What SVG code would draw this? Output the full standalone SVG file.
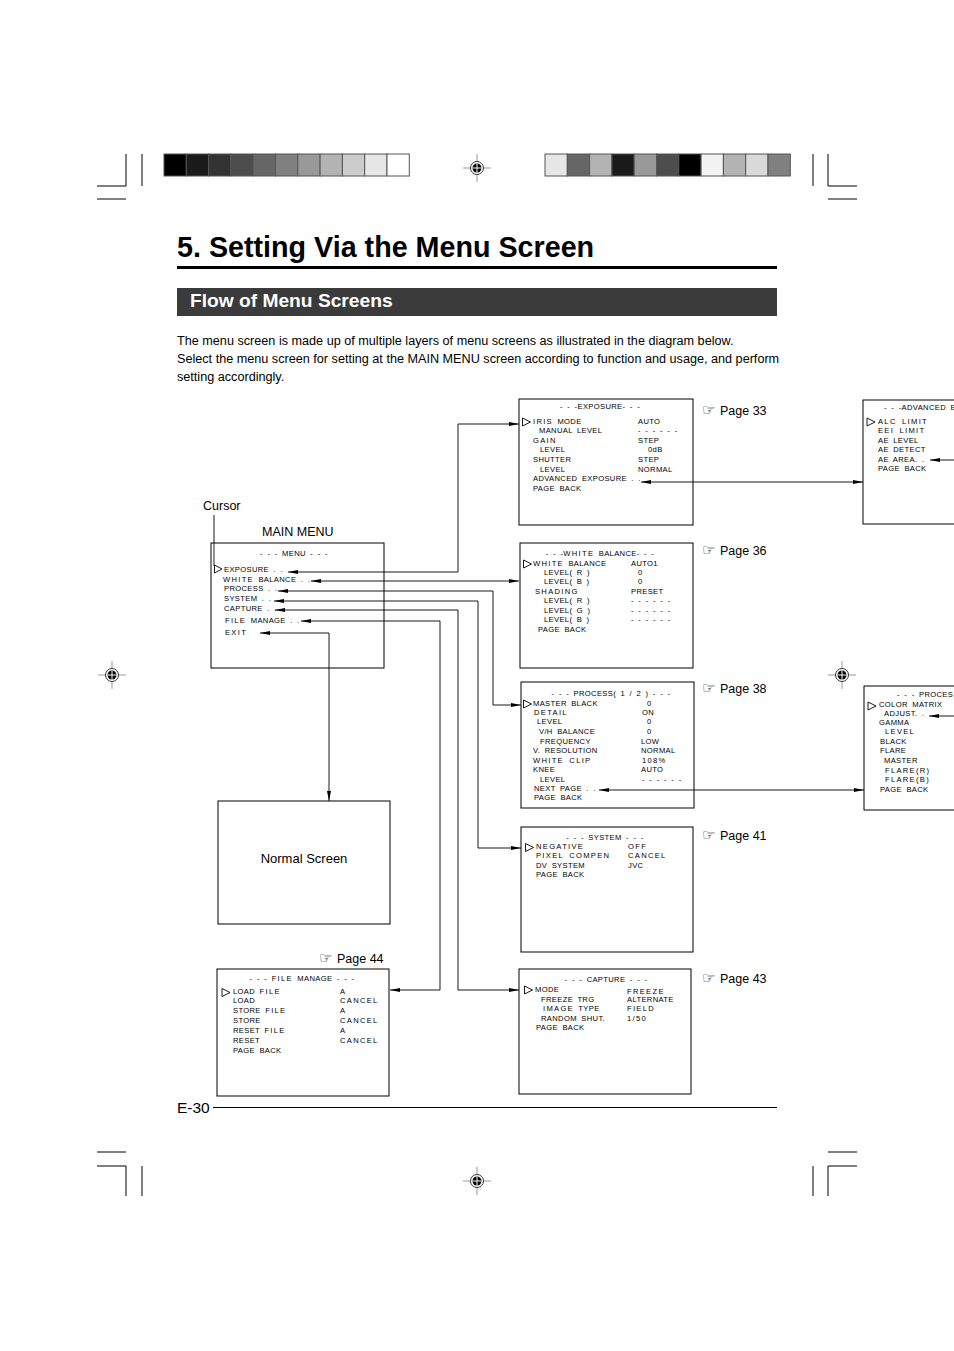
<svg xmlns="http://www.w3.org/2000/svg" width="954" height="1351" viewBox="0 0 954 1351">
<style>
.m{font-family:"Liberation Sans",Arial,sans-serif;font-size:7.6px;letter-spacing:0.35px;word-spacing:2px;fill:#000}
.w{letter-spacing:1.3px}
.t{text-anchor:middle}
.box{fill:#fff;stroke:#000;stroke-width:1}
.cur{fill:#fff;stroke:#000;stroke-width:0.9}
.c{fill:none;stroke:#000;stroke-width:0.9}
.lbl{font-family:"Liberation Sans",Arial,sans-serif;font-size:12.5px;fill:#000}
.hand{font-family:"DejaVu Sans","Noto Sans",sans-serif;font-size:15px;fill:#000}
.crop{stroke:#000;stroke-width:1;fill:none}
.bar{stroke:#555;stroke-width:1}
</style>
<defs>
<marker id="ar" viewBox="0 0 10 4" refX="10" refY="2" markerWidth="11" markerHeight="4" markerUnits="userSpaceOnUse" orient="auto-start-reverse">
<path d="M0,0 L10,2 L0,4 z" fill="#000"/>
</marker>
<g id="reg">
<line x1="-14" y1="0" x2="14" y2="0" stroke="#999" stroke-width="1"/>
<line x1="0" y1="-14" x2="0" y2="14" stroke="#999" stroke-width="1"/>
<circle r="6.5" fill="#fff" stroke="#333" stroke-width="1"/>
<circle r="4.5" fill="#000"/>
<line x1="-4.5" y1="0" x2="4.5" y2="0" stroke="#fff" stroke-width="1"/>
<line x1="0" y1="-4.5" x2="0" y2="4.5" stroke="#fff" stroke-width="1"/>
</g>
</defs>
<rect width="954" height="1351" fill="#fff"/>

<g id="printmarks">
<path class="crop" d="M97,186H126V154M142,154V186M97,199H126"/>
<path class="crop" d="M857,186H828V154M813,154V186M857,199H828"/>
<path class="crop" d="M97,1152H126M97,1166H126V1196M142,1166V1196"/>
<path class="crop" d="M857,1152H828M857,1166H828V1196M813,1166V1196"/>
<use href="#reg" x="477" y="168"/>
<use href="#reg" x="477" y="1181"/>
<use href="#reg" x="112" y="675"/>
<use href="#reg" x="842" y="675"/>
<g class="bar">
<rect x="164" y="154" width="22.3" height="22" fill="#000"/>
<rect x="186.3" y="154" width="22.3" height="22" fill="#1a1a1a"/>
<rect x="208.6" y="154" width="22.3" height="22" fill="#333"/>
<rect x="230.9" y="154" width="22.3" height="22" fill="#4d4d4d"/>
<rect x="253.2" y="154" width="22.3" height="22" fill="#666"/>
<rect x="275.5" y="154" width="22.3" height="22" fill="#808080"/>
<rect x="297.8" y="154" width="22.3" height="22" fill="#999"/>
<rect x="320.1" y="154" width="22.3" height="22" fill="#b3b3b3"/>
<rect x="342.4" y="154" width="22.3" height="22" fill="#ccc"/>
<rect x="364.7" y="154" width="22.3" height="22" fill="#e6e6e6"/>
<rect x="387" y="154" width="22.3" height="22" fill="#fff"/>
<rect x="545" y="154" width="22.3" height="22" fill="#e6e6e6"/>
<rect x="567.3" y="154" width="22.3" height="22" fill="#666"/>
<rect x="589.6" y="154" width="22.3" height="22" fill="#b3b3b3"/>
<rect x="611.9" y="154" width="22.3" height="22" fill="#1a1a1a"/>
<rect x="634.2" y="154" width="22.3" height="22" fill="#999"/>
<rect x="656.5" y="154" width="22.3" height="22" fill="#4d4d4d"/>
<rect x="678.8" y="154" width="22.3" height="22" fill="#000"/>
<rect x="701.1" y="154" width="22.3" height="22" fill="#f2f2f2"/>
<rect x="723.4" y="154" width="22.3" height="22" fill="#b3b3b3"/>
<rect x="745.7" y="154" width="22.3" height="22" fill="#d9d9d9"/>
<rect x="768" y="154" width="22.3" height="22" fill="#808080"/>
</g>
</g>

<g id="header">
<text x="177" y="257" font-family="Liberation Sans,Arial,sans-serif" font-size="28.7" font-weight="bold">5. Setting Via the Menu Screen</text>
<rect x="177" y="266" width="600" height="3" fill="#000"/>
<rect x="177" y="288" width="600" height="28" fill="#3b3b3b"/>
<text x="190" y="307" font-family="Liberation Sans,Arial,sans-serif" font-size="19.2" font-weight="bold" fill="#fff">Flow of Menu Screens</text>
<g font-family="Liberation Sans,Arial,sans-serif" font-size="12.65">
<text x="177" y="345">The menu screen is made up of multiple layers of menu screens as illustrated in the diagram below.</text>
<text x="177" y="363">Select the menu screen for setting at the MAIN MENU screen according to function and usage, and perform</text>
<text x="177" y="381">setting accordingly.</text>
</g>
</g>

<g id="labels">
<text class="lbl" x="203" y="510">Cursor</text>
<text class="lbl" x="262" y="536">MAIN MENU</text>
<text class="hand" x="702" y="415">☞</text><text class="lbl" x="720" y="415">Page 33</text>
<text class="hand" x="702" y="555">☞</text><text class="lbl" x="720" y="555">Page 36</text>
<text class="hand" x="702" y="693">☞</text><text class="lbl" x="720" y="693">Page 38</text>
<text class="hand" x="702" y="840">☞</text><text class="lbl" x="720" y="840">Page 41</text>
<text class="hand" x="702" y="983">☞</text><text class="lbl" x="720" y="983">Page 43</text>
<text class="hand" x="319" y="963">☞</text><text class="lbl" x="337" y="963">Page 44</text>
</g>

<g id="exposure">
<rect class="box" x="519" y="399" width="174" height="126"/>
<text class="m t" x="600" y="409">- - -EXPOSURE- - -</text>
<polygon class="cur" points="522.5,418 530.5,422 522.5,426"/>
<text class="m" x="533" y="424"><tspan class="w">IRIS</tspan> MODE</text><text class="m" x="638" y="424">AUTO</text>
<text class="m" x="539" y="433">MANUAL LEVEL</text><text class="m" x="638" y="433">- - - - - -</text>
<text class="m w" x="533" y="443">GAIN</text><text class="m" x="638" y="443">STEP</text>
<text class="m" x="540" y="452">LEVEL</text><text class="m" x="648" y="452">0dB</text>
<text class="m" x="533" y="462">SHUTTER</text><text class="m" x="638" y="462">STEP</text>
<text class="m" x="540" y="472">LEVEL</text><text class="m" x="638" y="472">NORMAL</text>
<text class="m" x="533" y="481">ADVANCED EXPOSURE . .</text>
<text class="m" x="533" y="491">PAGE BACK</text>
</g>

<g id="advanced">
<rect class="box" x="863" y="400" width="100" height="124"/>
<text class="m" x="884" y="410">- - -ADVANCED E</text>
<polygon class="cur" points="867,418 875,422 867,426"/>
<text class="m w" x="878" y="424">ALC LIMIT</text>
<text class="m w" x="878" y="433">EEI LIMIT</text>
<text class="m" x="878" y="443">AE LEVEL</text>
<text class="m" x="878" y="452">AE DETECT</text>
<text class="m" x="878" y="462">AE AREA. .</text>
<text class="m" x="878" y="471">PAGE BACK</text>
</g>

<g id="mainmenu">
<rect class="box" x="211" y="543" width="173" height="125"/>
<text class="m t" x="294" y="556">- - -  MENU  - - -</text>
<polygon class="cur" points="214.5,565 222,569 214.5,573"/>
<text class="m" x="224" y="572">EXPOSURE . .</text>
<text class="m" x="223" y="582"><tspan class="w">WHITE</tspan> BALANCE . .</text>
<text class="m" x="224" y="591">PROCESS . .</text>
<text class="m" x="224" y="601">SYSTEM . .</text>
<text class="m" x="224" y="611">CAPTURE . .</text>
<text class="m" x="225" y="623"><tspan class="w">FILE</tspan> MANAGE . .</text>
<text class="m w" x="225" y="635">EXIT</text>
</g>

<g id="whitebalance">
<rect class="box" x="520" y="543" width="173" height="125"/>
<text class="m t" x="600" y="556">- - -<tspan class="w">WHITE</tspan> BALANCE- - -</text>
<polygon class="cur" points="523.5,560 531.5,564 523.5,568"/>
<text class="m" x="533" y="566"><tspan class="w">WHITE</tspan> BALANCE</text><text class="m" x="631" y="566">AUTO1</text>
<text class="m" x="544" y="575">LEVEL( R )</text><text class="m" x="638" y="575">0</text>
<text class="m" x="544" y="584">LEVEL( B )</text><text class="m" x="638" y="584">0</text>
<text class="m w" x="535" y="594">SHADING</text><text class="m" x="631" y="594">PRESET</text>
<text class="m" x="544" y="603">LEVEL( R )</text><text class="m" x="631" y="603">- - - - - -</text>
<text class="m" x="544" y="613">LEVEL( G )</text><text class="m" x="631" y="613">- - - - - -</text>
<text class="m" x="544" y="622">LEVEL( B )</text><text class="m" x="631" y="622">- - - - - -</text>
<text class="m" x="538" y="632">PAGE BACK</text>
</g>

<g id="process">
<rect class="box" x="521" y="682" width="173" height="126"/>
<text class="m t" x="611" y="696">- - -  PROCESS( 1 / 2 )  - - -</text>
<polygon class="cur" points="523.5,700 531.5,704 523.5,708"/>
<text class="m" x="533" y="706">MASTER BLACK</text><text class="m" x="647" y="706">0</text>
<text class="m w" x="534" y="715">DETAIL</text><text class="m" x="642" y="715">ON</text>
<text class="m" x="537" y="724">LEVEL</text><text class="m" x="647" y="724">0</text>
<text class="m" x="539" y="734">V/H BALANCE</text><text class="m" x="647" y="734">0</text>
<text class="m" x="540" y="744">FREQUENCY</text><text class="m" x="641" y="744">LOW</text>
<text class="m" x="533" y="753">V. RESOLUTION</text><text class="m" x="641" y="753">NORMAL</text>
<text class="m w" x="533" y="763">WHITE CLIP</text><text class="m w" x="642" y="763">108%</text>
<text class="m" x="533" y="772">KNEE</text><text class="m" x="641" y="772">AUTO</text>
<text class="m" x="540" y="782">LEVEL</text><text class="m" x="642" y="782">- - - - - -</text>
<text class="m" x="534" y="791">NEXT PAGE . .</text>
<text class="m" x="534" y="800">PAGE BACK</text>
</g>

<g id="process2">
<rect class="box" x="864" y="686" width="100" height="124"/>
<text class="m" x="897" y="697">- - -  PROCES</text>
<polygon class="cur" points="868,702 876,706 868,710"/>
<text class="m" x="879" y="707" letter-spacing="0.6">COLOR MATRIX</text>
<text class="m" x="884" y="716">ADJUST. .</text>
<text class="m" x="879" y="725">GAMMA</text>
<text class="m w" x="885" y="734">LEVEL</text>
<text class="m" x="880" y="744">BLACK</text>
<text class="m" x="880" y="753">FLARE</text>
<text class="m" x="884" y="763">MASTER</text>
<text class="m w" x="885" y="773">FLARE(R)</text>
<text class="m w" x="885" y="782">FLARE(B)</text>
<text class="m" x="880" y="792">PAGE BACK</text>
</g>

<g id="system">
<rect class="box" x="521" y="827" width="172" height="125"/>
<text class="m t" x="605" y="840">- - -  SYSTEM  - - -</text>
<polygon class="cur" points="525.5,843.5 533.5,847.5 525.5,851.5"/>
<text class="m w" x="536" y="849">NEGATIVE</text><text class="m w" x="628" y="849">OFF</text>
<text class="m w" x="536" y="858">PIXEL COMPEN</text><text class="m w" x="628" y="858">CANCEL</text>
<text class="m" x="536" y="868">DV SYSTEM</text><text class="m" x="628" y="868">JVC</text>
<text class="m" x="536" y="877">PAGE BACK</text>
</g>

<g id="normalscreen">
<rect class="box" x="218" y="801" width="172" height="123"/>
<text x="304" y="863" text-anchor="middle" font-family="Liberation Sans,Arial,sans-serif" font-size="13">Normal Screen</text>
</g>

<g id="filemanage">
<rect class="box" x="217" y="969" width="172" height="127"/>
<text class="m t" x="302" y="981">- - - <tspan class="w">FILE</tspan> MANAGE - - -</text>
<polygon class="cur" points="222,988.5 230,992.5 222,996.5"/>
<text class="m" x="233" y="994">LOAD <tspan class="w">FILE</tspan></text><text class="m" x="340" y="994">A</text>
<text class="m" x="233" y="1003">LOAD</text><text class="m w" x="340" y="1003">CANCEL</text>
<text class="m" x="233" y="1013">STORE <tspan class="w">FILE</tspan></text><text class="m" x="340" y="1013">A</text>
<text class="m" x="233" y="1023">STORE</text><text class="m w" x="340" y="1023">CANCEL</text>
<text class="m" x="233" y="1033">RESET <tspan class="w">FILE</tspan></text><text class="m" x="340" y="1033">A</text>
<text class="m" x="233" y="1043">RESET</text><text class="m w" x="340" y="1043">CANCEL</text>
<text class="m" x="233" y="1053">PAGE BACK</text>
</g>

<g id="capture">
<rect class="box" x="519" y="969" width="172" height="125"/>
<text class="m t" x="606" y="982">- - -  CAPTURE  - - -</text>
<polygon class="cur" points="524.5,986 532.5,990 524.5,994"/>
<text class="m" x="535" y="992">MODE</text><text class="m w" x="627" y="994">FREEZE</text>
<text class="m" x="541" y="1002">FREEZE TRG</text><text class="m" x="627" y="1002">ALTERNATE</text>
<text class="m" x="543" y="1011"><tspan class="w">IMAGE</tspan> TYPE</text><text class="m w" x="627" y="1011">FIELD</text>
<text class="m" x="541" y="1021">RANDOM SHUT.</text><text class="m w" x="627" y="1021">1/50</text>
<text class="m" x="536" y="1030">PAGE BACK</text>
</g>

<g id="connectors">
<path class="c" d="M288,572H458V424H519" marker-start="url(#ar)" marker-end="url(#ar)"/>
<path class="c" d="M311,581H519" marker-start="url(#ar)" marker-end="url(#ar)"/>
<path class="c" d="M278,591H493V705H521" marker-start="url(#ar)" marker-end="url(#ar)"/>
<path class="c" d="M274,601H478V848H521" marker-start="url(#ar)" marker-end="url(#ar)"/>
<path class="c" d="M275,610H458V990H519" marker-start="url(#ar)" marker-end="url(#ar)"/>
<path class="c" d="M301,621H440V990H390" marker-start="url(#ar)" marker-end="url(#ar)"/>
<path class="c" d="M260,633H329V801" marker-start="url(#ar)" marker-end="url(#ar)"/>
<path class="c" d="M641,482H863" marker-start="url(#ar)" marker-end="url(#ar)"/>
<path class="c" d="M954,460H930" marker-end="url(#ar)"/>
<path class="c" d="M599,790H864" marker-start="url(#ar)" marker-end="url(#ar)"/>
<path class="c" d="M954,716H929" marker-end="url(#ar)"/>
<path class="c" d="M214,515V566"/>
</g>

<g id="footer">
<text x="177" y="1113" font-family="Liberation Sans,Arial,sans-serif" font-size="15.5">E-30</text>
<line x1="213" y1="1107.5" x2="777" y2="1107.5" stroke="#000" stroke-width="1"/>
</g>
</svg>
